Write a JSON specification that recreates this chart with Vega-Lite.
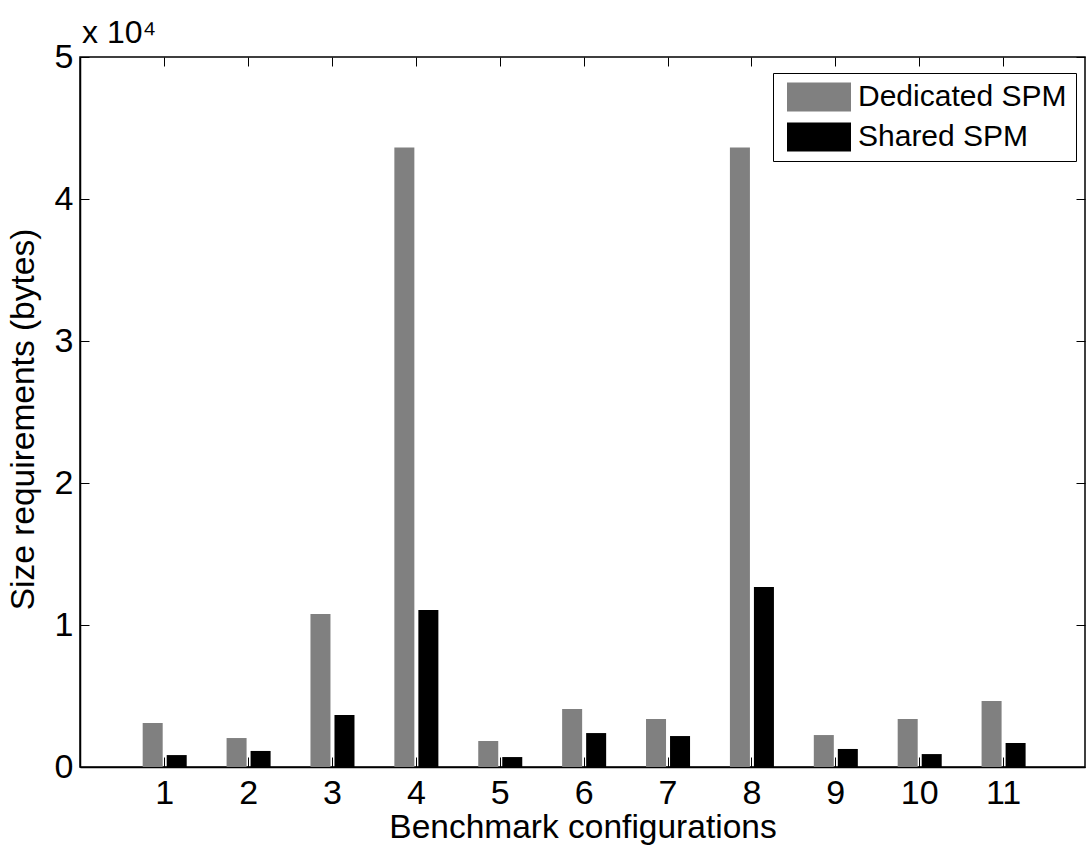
{
  "$schema": "https://vega.github.io/schema/vega-lite/v6.json",
  "width": 1005,
  "height": 710,
  "autosize": "none",
  "padding": {"left": 80, "top": 57, "right": 1, "bottom": 83},
  "background": "white",
  "config": {
    "font": "Liberation Sans",
    "view": {"stroke": "black", "strokeWidth": 1.5},
    "axis": {"grid": false, "domainColor": "black", "domainWidth": 1.5, "tickColor": "black", "tickWidth": 1, "labelColor": "black", "titleColor": "black", "labelFont": "Liberation Sans", "titleFont": "Liberation Sans", "titleFontWeight": "normal"}
  },
  "title": {"text": "x 10⁴", "anchor": "start", "frame": "group", "fontSize": 32, "font": "Liberation Sans", "fontWeight": "normal", "color": "black", "baseline": "alphabetic", "offset": 9, "dx": 2, "dy": 44},
  "data": {
    "values": [
      {"config": 1, "type": "Dedicated SPM", "bytes": 3100},
      {"config": 1, "type": "Shared SPM", "bytes": 840},
      {"config": 2, "type": "Dedicated SPM", "bytes": 2040},
      {"config": 2, "type": "Shared SPM", "bytes": 1130},
      {"config": 3, "type": "Dedicated SPM", "bytes": 10770},
      {"config": 3, "type": "Shared SPM", "bytes": 3660},
      {"config": 4, "type": "Dedicated SPM", "bytes": 43630},
      {"config": 4, "type": "Shared SPM", "bytes": 11050},
      {"config": 5, "type": "Dedicated SPM", "bytes": 1830},
      {"config": 5, "type": "Shared SPM", "bytes": 700},
      {"config": 6, "type": "Dedicated SPM", "bytes": 4080},
      {"config": 6, "type": "Shared SPM", "bytes": 2390},
      {"config": 7, "type": "Dedicated SPM", "bytes": 3380},
      {"config": 7, "type": "Shared SPM", "bytes": 2180},
      {"config": 8, "type": "Dedicated SPM", "bytes": 43630},
      {"config": 8, "type": "Shared SPM", "bytes": 12670},
      {"config": 9, "type": "Dedicated SPM", "bytes": 2250},
      {"config": 9, "type": "Shared SPM", "bytes": 1270},
      {"config": 10, "type": "Dedicated SPM", "bytes": 3380},
      {"config": 10, "type": "Shared SPM", "bytes": 910},
      {"config": 11, "type": "Dedicated SPM", "bytes": 4640},
      {"config": 11, "type": "Shared SPM", "bytes": 1690}
    ]
  },
  "layer": [
    {
      "mark": {"type": "bar"},
      "encoding": {
        "x": {"field": "config", "type": "ordinal", "scale": {"type": "band", "paddingInner": 0, "paddingOuter": 0.49, "align": 0.52},
          "axis": {"orient": "bottom", "title": "Benchmark configurations", "labelAngle": 0, "labelFontSize": 34, "titleFontSize": 33.5, "tickSize": -10, "labelPadding": 19, "titlePadding": 1}},
        "xOffset": {"field": "type", "type": "nominal", "scale": {"paddingInner": 0.1667, "paddingOuter": 0.83}},
        "y": {"field": "bytes", "type": "quantitative", "scale": {"domain": [0, 50000], "nice": false},
          "axis": {"orient": "left", "title": "Size requirements (bytes)", "values": [0, 10000, 20000, 30000, 40000, 50000], "labelExpr": "datum.value / 10000", "labelFontSize": 34, "titleFontSize": 33.5, "tickSize": -9, "labelPadding": 16, "titlePadding": 14, "titleY": 362}},
        "color": {"field": "type", "type": "nominal", "scale": {"domain": ["Dedicated SPM", "Shared SPM"], "range": ["#808080", "#000000"]},
          "legend": {"title": null, "orient": "none", "legendX": 693, "legendY": 16, "strokeColor": "black", "fillColor": "white", "padding": 9, "symbolOffset": 5, "symbolType": "M-1,-0.45H1V0.45H-1Z", "symbolSize": 4096, "symbolStrokeWidth": 0, "clipHeight": 30, "rowPadding": 10, "labelFontSize": 30, "labelFont": "Liberation Sans", "labelColor": "black", "labelOffset": 7, "labelLimit": 400}}
      }
    },
    {
      "mark": {"type": "bar", "opacity": 0},
      "encoding": {
        "x": {"field": "config", "type": "ordinal", "axis": {"orient": "top", "title": null, "labels": false, "tickSize": -9, "domain": false}},
        "xOffset": {"field": "type", "type": "nominal"},
        "y": {"field": "bytes", "type": "quantitative", "axis": {"orient": "right", "title": null, "labels": false, "values": [0, 10000, 20000, 30000, 40000, 50000], "tickSize": -9, "domain": false}}
      }
    }
  ],
  "resolve": {"axis": {"x": "independent", "y": "independent"}}
}
